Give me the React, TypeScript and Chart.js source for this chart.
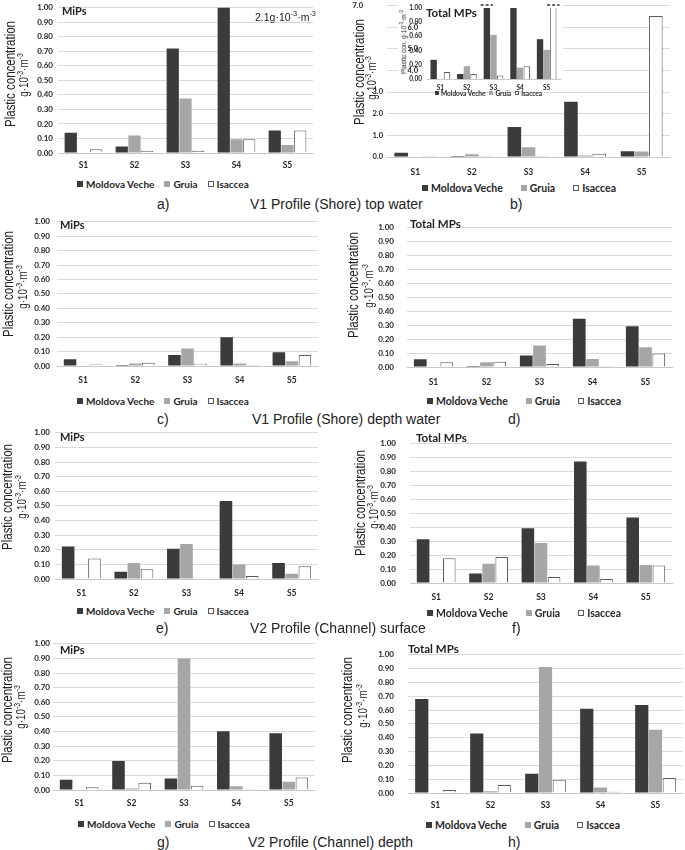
import React, { useEffect, useRef } from 'react';
import { Chart, registerables } from 'chart.js';
Chart.register(...registerables);

// ---------- data ----------
const SITES = ['S1', 'S2', 'S3', 'S4', 'S5'];
const SERIES_NAMES = ['Moldova Veche', 'Gruia', 'Isaccea'];
const Y_TICKS_UNIT = [0, 0.1, 0.2, 0.3, 0.4, 0.5, 0.6, 0.7, 0.8, 0.9, 1.0];
const Y_TICKS_B = [0, 1, 2, 3, 4, 5, 6, 7];
const Y_TICKS_INSET = [0, 0.2, 0.4, 0.6, 0.8, 1.0];
const B_MOVED_TICKS = [4, 5, 6, 7];

// a) V1 top water, MiPs
const A_MV = [0.14, 0.045, 0.72, 2.1, 0.155];
const A_GR = [0, 0.12, 0.375, 0.095, 0.055];
const A_IS = [0.025, 0.015, 0.015, 0.095, 0.155];
// b) V1 top water, Total MPs
const B_MV = [0.2, 0.05, 1.39, 2.55, 0.27];
const B_GR = [0, 0.13, 0.45, 0.07, 0.25];
const B_IS = [0.05, 0.05, 0.05, 0.15, 6.52];
// b) inset (zoomed 0-1)
const BI_MV = [0.27, 0.07, 1.39, 2.55, 0.56];
const BI_GR = [0, 0.18, 0.62, 0.16, 0.41];
const BI_IS = [0.1, 0.07, 0.05, 0.18, 6.52];
// c) V1 depth, MiPs
const C_MV = [0.047, 0.007, 0.076, 0.2, 0.096];
const C_GR = [0, 0.018, 0.122, 0.018, 0.033];
const C_IS = [0.011, 0.022, 0.016, 0.007, 0.076];
// d) V1 depth, Total MPs
const D_MV = [0.055, 0.007, 0.082, 0.347, 0.292];
const D_GR = [0, 0.035, 0.155, 0.058, 0.142];
const D_IS = [0.035, 0.038, 0.022, 0.007, 0.097];
// e) V2 surface, MiPs
const E_MV = [0.222, 0.049, 0.207, 0.533, 0.109];
const E_GR = [0, 0.109, 0.24, 0.1, 0.036];
const E_IS = [0.14, 0.067, 0.009, 0.02, 0.087];
// f) V2 surface, Total MPs
const F_MV = [0.314, 0.068, 0.393, 0.873, 0.47];
const F_GR = [0, 0.138, 0.288, 0.125, 0.13];
const F_IS = [0.178, 0.187, 0.044, 0.029, 0.125];
// g) V2 depth, MiPs
const G_MV = [0.07, 0.199, 0.079, 0.402, 0.388];
const G_GR = [0, 0.011, 0.9, 0.025, 0.056];
const G_IS = [0.018, 0.05, 0.029, 0.005, 0.086];
// h) V2 depth, Total MPs
const H_MV = [0.681, 0.43, 0.14, 0.61, 0.636];
const H_GR = [0, 0.013, 0.911, 0.04, 0.457];
const H_IS = [0.022, 0.058, 0.095, 0.009, 0.109];

// ---------- styles ----------
const COL_MV = '#3b3b3b';
const COL_GR = '#a6a6a6';
const COL_IS = '#ffffff';
const COL_IS_BORDER = '#595959';
const FILLS = [COL_MV, COL_GR, COL_IS];
const GRID = '#d9d9d9';
const AXIS = '#c8c8c8';
const TXT = '#262626';
const SANS = 'Lato, "Noto Sans", sans-serif';
const ARIAL = '"Liberation Sans", Arial, sans-serif';

type Plot = { L: number; T: number; R: number; B: number };
type PanelCfg = {
  plot: Plot;
  tickRight: number;
  mv: number[];
  gr: number[];
  is: number[];
  yTicks: number[];
  yMax: number;
  decimals: number;
  tickSize: number;
  catSize: number;
  catPad: number;
  grid: boolean;
  hideTick?: (v: number) => boolean;
  makePlugins?: (left: number, top: number) => any[];
};

function BarPanel({ cfg }: { cfg: PanelCfg }) {
  const ref = useRef<HTMLCanvasElement>(null);
  const left = cfg.tickRight - 40;
  const top = cfg.plot.T - 6;
  const width = cfg.plot.R + 2 - left;
  const xh = 24;
  const height = cfg.plot.B - top + xh;
  useEffect(() => {
    const chart = new Chart(ref.current!, {
      type: 'bar',
      data: {
        labels: SITES,
        datasets: [
          { label: SERIES_NAMES[0], data: cfg.mv, backgroundColor: COL_MV, borderWidth: 0 },
          { label: SERIES_NAMES[1], data: cfg.gr, backgroundColor: COL_GR, borderWidth: 0 },
          { label: SERIES_NAMES[2], data: cfg.is, backgroundColor: COL_IS, borderColor: COL_IS_BORDER, borderWidth: 1 },
        ],
      },
      options: {
        responsive: false,
        animation: false,
        devicePixelRatio: 1,
        layout: { padding: { top: 6, right: 2, left: 0, bottom: 0 } },
        datasets: { bar: { categoryPercentage: 0.75, barPercentage: 0.96 } },
        plugins: { legend: { display: false }, tooltip: { enabled: false }, title: { display: false } },
        scales: {
          x: {
            grid: { display: false, drawTicks: false },
            border: { display: true, color: AXIS },
            ticks: { padding: cfg.catPad, color: TXT, font: { family: SANS, size: cfg.catSize, weight: 'bold' } },
            afterFit: (s: any) => { s.height = xh; },
          },
          y: {
            min: 0,
            max: cfg.yMax,
            grid: { display: cfg.grid, color: GRID, drawTicks: false },
            border: { display: false },
            ticks: {
              padding: cfg.plot.L - cfg.tickRight,
              color: TXT,
              font: { family: SANS, size: cfg.tickSize, weight: 'bold' },
              callback: (v: any) => (cfg.hideTick && cfg.hideTick(Number(v)) ? '' : Number(v).toFixed(cfg.decimals)),
            },
            afterBuildTicks: (s: any) => { s.ticks = cfg.yTicks.map((v) => ({ value: v })); },
            afterFit: (s: any) => { s.width = cfg.plot.L - left; },
          },
        } as any,
      },
      plugins: cfg.makePlugins ? cfg.makePlugins(left, top) : [],
    } as any);
    return () => chart.destroy();
  }, []);
  return <canvas ref={ref} width={width} height={height} style={{ position: 'absolute', left, top, width, height }} />;
}

function YTitle({ x1, y1, x2, y2, size = 14, size2 = 12, scale = 0.82, single }: any) {
  const base: any = { position: 'absolute', whiteSpace: 'nowrap', color: '#222', fontFamily: ARIAL, lineHeight: 1 };
  if (single) {
    return (
      <div style={{ ...base, left: x1, top: y1, fontSize: size, transform: 'translate(-50%,-50%) rotate(-90deg)' }}>
        Plastic con. g·10<sup style={{ fontSize: '70%' }}>-3</sup>·m<sup style={{ fontSize: '70%' }}>-3</sup>
      </div>
    );
  }
  return (
    <>
      <div style={{ ...base, left: x1, top: y1, fontSize: size, transform: `translate(-50%,-50%) rotate(-90deg) scaleX(${scale})` }}>
        Plastic concentration
      </div>
      <div style={{ ...base, left: x2, top: y2, fontSize: size2, transform: `translate(-50%,-50%) rotate(-90deg) scaleX(${scale})` }}>
        g·10<sup style={{ fontSize: '70%' }}>-3</sup>·m<sup style={{ fontSize: '70%' }}>-3</sup>
      </div>
    </>
  );
}

function Legend({ x, y, size, gap, box = 6 }: any) {
  const h = Math.round(size * 1.4);
  return (
    <div style={{ position: 'absolute', left: x, top: y - h / 2, height: h, display: 'flex', alignItems: 'center', whiteSpace: 'nowrap', fontFamily: SANS, fontWeight: 'bold', fontSize: size, color: '#262626', lineHeight: `${h}px` }}>
      {SERIES_NAMES.map((n, k) => (
        <span key={n} style={{ display: 'flex', alignItems: 'center', marginLeft: k ? gap : 0 }}>
          <span style={{ display: 'inline-block', width: box, height: box, boxSizing: 'border-box', background: FILLS[k], border: k === 2 ? `1px solid ${COL_IS_BORDER}` : 'none', marginRight: Math.max(2, box / 2) }} />
          {n}
        </span>
      ))}
    </div>
  );
}

function Txt({ x, y, size, bold, family = ARIAL, children }: any) {
  return (
    <div style={{ position: 'absolute', left: x, top: y - size * 0.6, lineHeight: `${size * 1.2}px`, fontSize: size, fontWeight: bold ? 'bold' : 'normal', fontFamily: family, color: '#222', whiteSpace: 'nowrap' }}>
      {children}
    </div>
  );
}

// ---------- panel configs ----------
const unit = (plot: Plot, tickRight: number, mv: number[], gr: number[], is: number[], catPad: number): PanelCfg => ({
  plot, tickRight, mv, gr, is, yTicks: Y_TICKS_UNIT, yMax: 1, decimals: 2, tickSize: 8, catSize: 8.5, catPad, grid: true,
});

const PANEL_A = unit({ L: 58, T: 4, R: 313, B: 153 }, 53, A_MV, A_GR, A_IS, 7);
const PANEL_C = unit({ L: 57, T: 216, R: 318, B: 366 }, 50, C_MV, C_GR, C_IS, 9);
const PANEL_D = unit({ L: 407, T: 216, R: 672, B: 367 }, 394, D_MV, D_GR, D_IS, 10);
const PANEL_E = unit({ L: 55, T: 429, R: 318, B: 579 }, 50, E_MV, E_GR, E_IS, 9);
const PANEL_F = unit({ L: 410, T: 431, R: 672, B: 583 }, 396, F_MV, F_GR, F_IS, 9);
const PANEL_G = unit({ L: 53, T: 642, R: 315, B: 790 }, 50, G_MV, G_GR, G_IS, 8);
const PANEL_H = unit({ L: 408, T: 642, R: 683, B: 793 }, 394, H_MV, H_GR, H_IS, 7);

const INSET_BOX = { x: 398, y: 0, w: 165, h: 86 };
const MOVED_TICK_X: Record<number, number> = { 7: 363, 6: 418, 5: 418, 4: 418 };

const PANEL_B: PanelCfg = {
  plot: { L: 387, T: 3, R: 670, B: 157 },
  tickRight: 383,
  mv: B_MV, gr: B_GR, is: B_IS,
  yTicks: Y_TICKS_B, yMax: 7, decimals: 1,
  tickSize: 7.5, catSize: 8.5, catPad: 10, grid: true,
  hideTick: (v) => B_MOVED_TICKS.includes(v),
  makePlugins: (left, top) => [
    {
      id: 'insetBg',
      beforeDatasetsDraw(chart: any) {
        const ctx = chart.ctx;
        ctx.save();
        ctx.fillStyle = '#ffffff';
        ctx.fillRect(INSET_BOX.x - left, INSET_BOX.y - top, INSET_BOX.w, INSET_BOX.h);
        ctx.restore();
      },
      afterDraw(chart: any) {
        const ctx = chart.ctx;
        const ys = chart.scales.y;
        ctx.save();
        ctx.font = `bold 7.5px ${SANS}`;
        ctx.fillStyle = TXT;
        ctx.textAlign = 'right';
        ctx.textBaseline = 'middle';
        B_MOVED_TICKS.forEach((v) => ctx.fillText(v.toFixed(1), MOVED_TICK_X[v] - left, ys.getPixelForValue(v)));
        ctx.restore();
      },
    },
  ],
};

const INSET_BREAKS = [{ ds: 0, idx: 2 }, { ds: 2, idx: 4 }];

const PANEL_BI: PanelCfg = {
  plot: { L: 427, T: 5, R: 560, B: 79 },
  tickRight: 422,
  mv: BI_MV, gr: BI_GR, is: BI_IS,
  yTicks: Y_TICKS_INSET, yMax: 1, decimals: 2,
  tickSize: 6.5, catSize: 6.5, catPad: 5, grid: false,
  makePlugins: () => [
    {
      id: 'breaks',
      afterDatasetsDraw(chart: any) {
        const ctx = chart.ctx;
        ctx.save();
        ctx.strokeStyle = '#333';
        ctx.lineWidth = 1.5;
        ctx.setLineDash([3, 2]);
        INSET_BREAKS.forEach(({ ds, idx }) => {
          const bar = chart.getDatasetMeta(ds).data[idx];
          const w = bar.width;
          const yy = chart.chartArea.top - 3;
          ctx.beginPath();
          ctx.moveTo(bar.x - w / 2 - 3, yy);
          ctx.lineTo(bar.x + w / 2 + 3, yy);
          ctx.stroke();
        });
        ctx.restore();
      },
    },
  ],
};

const SUP = (s: string) => <sup style={{ fontSize: '70%' }}>{s}</sup>;

export default function App() {
  return (
    <div style={{ position: 'absolute', left: 0, top: 0, width: 685, height: 850, background: '#fff', overflow: 'hidden' }}>
      {/* row 1 */}
      <BarPanel cfg={PANEL_A} />
      <BarPanel cfg={PANEL_B} />
      <BarPanel cfg={PANEL_BI} />
      <YTitle x1={10} y1={74} x2={23} y2={75} />
      <YTitle x1={359} y1={72} x2={371} y2={78} />
      <YTitle single x1={404} y1={42} size={6.5} />
      <Txt x={62} y={11} size={11} bold family={SANS}>MiPs</Txt>
      <Txt x={426} y={13} size={11.5} bold family={SANS}>Total MPs</Txt>
      <Txt x={255} y={14} size={10.5}>2.1g·10{SUP('-3')}·m{SUP('-3')}</Txt>
      <Legend x={77} y={184} size={10} gap={10} />
      <Legend x={422} y={188} size={10.5} gap={18} />
      <Legend x={435} y={93} size={6.5} gap={4} box={4} />
      <Txt x={157} y={204} size={14}>a)</Txt>
      <Txt x={250} y={204} size={14}>V1 Profile (Shore) top water</Txt>
      <Txt x={510} y={204} size={14}>b)</Txt>

      {/* row 2 */}
      <BarPanel cfg={PANEL_C} />
      <BarPanel cfg={PANEL_D} />
      <YTitle x1={8} y1={284} x2={22} y2={287} />
      <YTitle x1={353} y1={285} x2={368} y2={286} />
      <Txt x={60} y={225} size={11} bold family={SANS}>MiPs</Txt>
      <Txt x={410} y={224} size={11.5} bold family={SANS}>Total MPs</Txt>
      <Legend x={77} y={401} size={10} gap={10} />
      <Legend x={427} y={401} size={10.5} gap={18} />
      <Txt x={157} y={419} size={14}>c)</Txt>
      <Txt x={252} y={419} size={14}>V1 Profile (Shore) depth water</Txt>
      <Txt x={508} y={419} size={14}>d)</Txt>

      {/* row 3 */}
      <BarPanel cfg={PANEL_E} />
      <BarPanel cfg={PANEL_F} />
      <YTitle x1={7} y1={497} x2={21} y2={497} />
      <YTitle x1={360} y1={503} x2={373} y2={507} />
      <Txt x={60} y={437} size={11} bold family={SANS}>MiPs</Txt>
      <Txt x={416} y={438} size={11.5} bold family={SANS}>Total MPs</Txt>
      <Legend x={77} y={611} size={10} gap={10} />
      <Legend x={427} y={613} size={10.5} gap={18} />
      <Txt x={156} y={628} size={14}>e)</Txt>
      <Txt x={250} y={628} size={14}>V2 Profile (Channel) surface</Txt>
      <Txt x={512} y={628} size={14}>f)</Txt>

      {/* row 4 */}
      <BarPanel cfg={PANEL_G} />
      <BarPanel cfg={PANEL_H} />
      <YTitle x1={7} y1={710} x2={20} y2={707} />
      <YTitle x1={347} y1={710} x2={362} y2={706} />
      <Txt x={60} y={650} size={11} bold family={SANS}>MiPs</Txt>
      <Txt x={408} y={649} size={11.5} bold family={SANS}>Total MPs</Txt>
      <Legend x={78} y={824} size={10} gap={10} />
      <Legend x={426} y={825} size={10.5} gap={18} />
      <Txt x={157} y={842} size={14}>g)</Txt>
      <Txt x={248} y={842} size={14}>V2 Profile (Channel) depth</Txt>
      <Txt x={508} y={842} size={14}>h)</Txt>
    </div>
  );
}
